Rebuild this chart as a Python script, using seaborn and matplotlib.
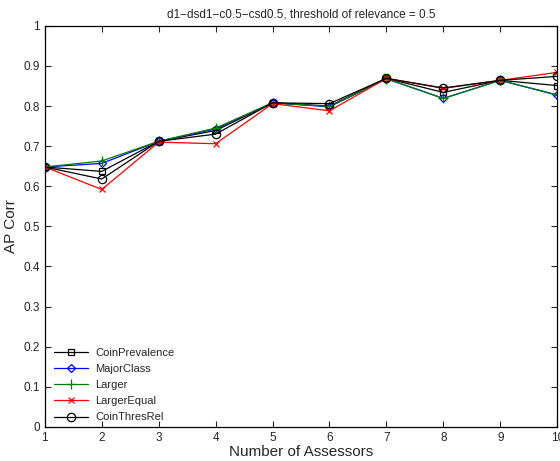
import matplotlib
matplotlib.use("Agg")
import matplotlib.pyplot as plt
import seaborn as sns
import pandas as pd

assessors = [1, 2, 3, 4, 5, 6, 7, 8, 9, 10]
coin_prevalence = [0.648, 0.637, 0.712, 0.739, 0.808, 0.800, 0.869, 0.834, 0.864, 0.851]
major_class = [0.648, 0.657, 0.712, 0.743, 0.808, 0.798, 0.868, 0.819, 0.864, 0.827]
larger = [0.648, 0.663, 0.712, 0.745, 0.808, 0.799, 0.868, 0.819, 0.864, 0.828]
larger_equal = [0.648, 0.592, 0.710, 0.706, 0.806, 0.788, 0.869, 0.844, 0.864, 0.884]
coin_thres_rel = [0.648, 0.618, 0.712, 0.730, 0.808, 0.806, 0.869, 0.845, 0.864, 0.874]

names = ["CoinPrevalence", "MajorClass", "Larger", "LargerEqual", "CoinThresRel"]
series = [coin_prevalence, major_class, larger, larger_equal, coin_thres_rel]
colors = ["black", "blue", "green", "red", "black"]
markers = ["s", "D", "+", "x", "o"]
msizes = [5, 4.5, 6.5, 5, 6]

sns.set_style("ticks")
plt.rcParams["font.family"] = ["Liberation Sans", "DejaVu Sans"]

fig = plt.figure(figsize=(5.6, 4.61), dpi=100)
ax = fig.add_axes([0.080, 0.074, 0.915, 0.870])

for n, vals, c, m, ms in zip(names, series, colors, markers, msizes):
    d = pd.DataFrame({"Assessors": assessors, "AP": vals})
    sns.lineplot(data=d, x="Assessors", y="AP", ax=ax, color=c, marker=m,
                 markersize=ms, markerfacecolor="none", markeredgecolor=c,
                 markeredgewidth=0.9, linewidth=0.9, label=n)

ax.set_xlim(1, 10)
ax.set_ylim(0, 1)
ax.set_xticks(assessors)
ax.set_yticks([0, 0.1, 0.2, 0.3, 0.4, 0.5, 0.6, 0.7, 0.8, 0.9, 1])
ax.set_yticklabels(["0", "0.1", "0.2", "0.3", "0.4", "0.5", "0.6", "0.7", "0.8", "0.9", "1"])
ax.tick_params(direction="in", labelsize=8.5, length=4, top=True, right=True, width=0.8)
for s in ax.spines.values():
    s.set_visible(True)
    s.set_linewidth(0.9)
    s.set_color("black")
ax.set_xlabel("Number of Assessors", fontsize=11, labelpad=1)
ax.set_ylabel("AP Corr", fontsize=11, labelpad=4)
ax.set_title("d1\u2212dsd1\u2212c0.5\u2212csd0.5, threshold of relevance = 0.5", fontsize=8.5, pad=6)

leg = ax.legend(loc="lower left", frameon=False, fontsize=8, handlelength=3.0,
                labelspacing=0.55, borderaxespad=0.0, handletextpad=0.7,
                bbox_to_anchor=(0.01, 0.0))

fig.savefig("out.png", dpi=100)
